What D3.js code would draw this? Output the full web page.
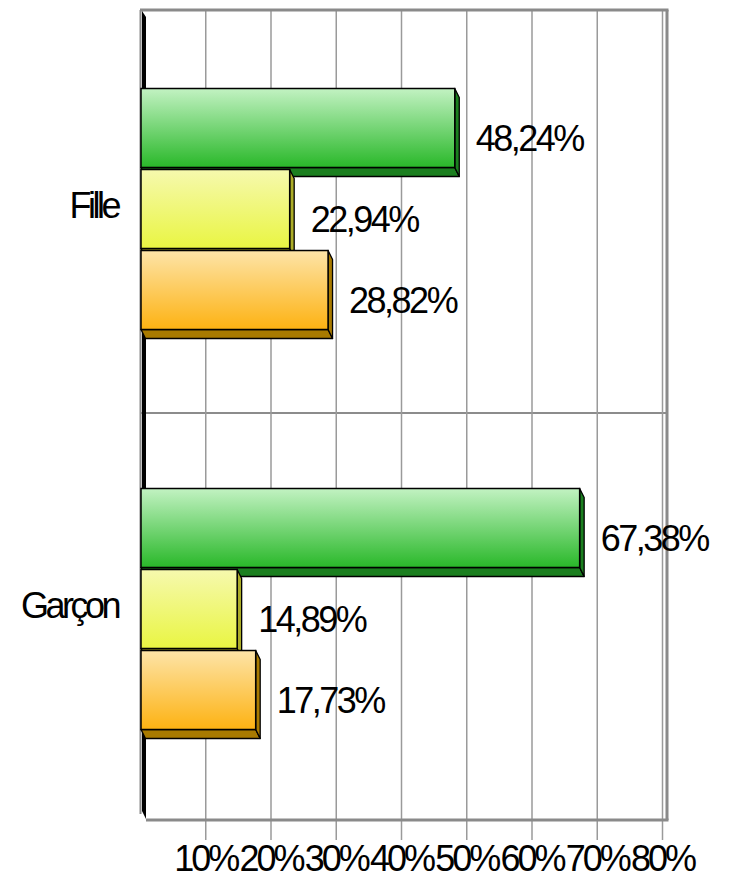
<!DOCTYPE html>
<html><head><meta charset="utf-8">
<script src="https://cdn.jsdelivr.net/npm/d3@7"></script>
<style>html,body{margin:0;padding:0;background:#fff}svg{display:block}</style>
</head><body>
<svg id="chart" width="729" height="879"></svg>
<script>
const categories = ["Fille", "Garçon"];
const seriesNames = ["Série 1", "Série 2", "Série 3"];
const greenValues = [48.24, 67.38];
const yellowValues = [22.94, 14.89];
const orangeValues = [28.82, 17.73];
const tickValues = [10, 20, 30, 40, 50, 60, 70, 80];

const seriesValues = [greenValues, yellowValues, orangeValues];
const palette = [
  {top:"#c2f2c2", bottom:"#29b829", side:"#1b7f1f"},
  {top:"#f6f9ae", bottom:"#e9f542", side:"#acad28"},
  {top:"#fde4a8", bottom:"#fdb212", side:"#a87a00"}
];

const svg = d3.select("#chart");
const font = "'Liberation Sans', Arial, sans-serif";
const plotTop = 10, plotBottom = 820, plotRight = 667;
const x = d3.scaleLinear().domain([0, 80]).range([140, 662]);
const y = d3.scaleBand().domain(categories).range([8.5, 808.5]);
const inner = d3.scaleBand().domain(d3.range(3)).range([80, 321]).paddingInner(0.025);
const dx = 4.5, dy = 9;

// gradients
const defs = svg.append("defs");
palette.forEach((p, i) => {
  const g = defs.append("linearGradient").attr("id", "grad" + i)
    .attr("x1", 0).attr("y1", 0).attr("x2", 0).attr("y2", 1);
  g.append("stop").attr("offset", "0%").attr("stop-color", p.top);
  g.append("stop").attr("offset", "100%").attr("stop-color", p.bottom);
});

// horizontal gridline between categories
svg.append("line").attr("x1", 140).attr("x2", plotRight)
  .attr("y1", 413).attr("y2", 413).attr("stroke", "#8c8c8c").attr("stroke-width", 2);

// axis with gridlines + ticks
const axis = d3.axisBottom(x).tickValues(tickValues).tickSize(20)
  .tickFormat(d => d + "%");
const ax = svg.append("g").attr("transform", `translate(0,${plotBottom})`).call(axis);
ax.select(".domain").remove();
ax.selectAll(".tick line").attr("y1", -(plotBottom - plotTop)).attr("stroke", "#9a9a9a").attr("stroke-width", 1.5);
ax.selectAll(".tick text").attr("y", 51).attr("dy", 0).attr("fill", "#000")
  .style("font-family", font).style("font-size", "36px").style("letter-spacing", "-3px");

// frame
svg.append("line").attr("x1", 140).attr("x2", plotRight + 1.5).attr("y1", plotTop).attr("y2", plotTop)
  .attr("stroke", "#8a8a8a").attr("stroke-width", 3);
svg.append("line").attr("x1", plotRight).attr("x2", plotRight).attr("y1", plotTop).attr("y2", plotBottom)
  .attr("stroke", "#8a8a8a").attr("stroke-width", 3);
svg.append("line").attr("x1", 146).attr("x2", plotRight + 1.5).attr("y1", plotBottom).attr("y2", plotBottom)
  .attr("stroke", "#8a8a8a").attr("stroke-width", 3);
// left wall
svg.append("line").attr("x1", 140.5).attr("x2", 140.5).attr("y1", plotTop).attr("y2", plotBottom - 6)
  .attr("stroke", "#8a8a8a").attr("stroke-width", 2);
svg.append("polygon")
  .attr("points", `142,11 146,17 146,${plotBottom - 1} 142,${plotBottom - 9}`)
  .attr("fill", "#000");

// bars
const groups = svg.append("g").selectAll("g").data(categories).join("g");
groups.each(function(cat, ci) {
  const g = d3.select(this);
  seriesValues.forEach((vals, si) => {
    const v = vals[ci];
    const x0 = x(0) + 1, x1 = x(v);
    const y0 = y(cat) + inner(si), h = inner.bandwidth();
    const p = palette[si];
    const bg = g.append("g");
    bg.append("polygon")
      .attr("points", `${x0},${y0 + h} ${x1},${y0 + h} ${x1 + dx},${y0 + h + dy} ${x0 + dx},${y0 + h + dy}`)
      .attr("fill", p.side).attr("stroke", "#000").attr("stroke-width", 1.3).attr("stroke-linejoin", "round");
    bg.append("polygon")
      .attr("points", `${x1},${y0} ${x1 + dx},${y0 + dy} ${x1 + dx},${y0 + h + dy} ${x1},${y0 + h}`)
      .attr("fill", p.side).attr("stroke", "#000").attr("stroke-width", 1.3).attr("stroke-linejoin", "round");
    bg.append("rect").attr("x", x0).attr("y", y0).attr("width", x1 - x0).attr("height", h)
      .attr("fill", `url(#grad${si})`).attr("stroke", "#000").attr("stroke-width", 1.5);
    svg.append("text").attr("x", x1 + 21).attr("y", y0 + h / 2 + 23)
      .attr("fill", "#000").style("font-family", font).style("font-size", "36px")
      .style("letter-spacing", "-2.5px")
      .text(v.toFixed(2).replace(".", ",") + "%");
  });
});

// category labels
svg.append("g").selectAll("text").data(categories).join("text")
  .attr("x", 118).attr("y", d => y(d) + y.bandwidth() / 2 + 9.5)
  .attr("text-anchor", "end").attr("fill", "#000")
  .style("font-family", font).style("font-size", "36px").style("letter-spacing", "-3.5px")
  .text(d => d);
</script>
</body></html>
